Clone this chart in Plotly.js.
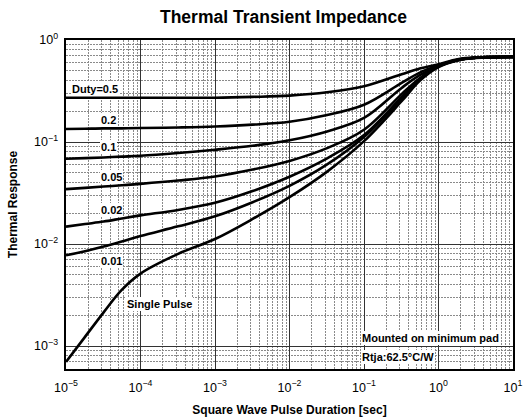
<!DOCTYPE html>
<html>
<head>
<meta charset="utf-8">
<script src="https://cdn.plot.ly/plotly-3.0.1.min.js"></script>
<style>html,body{margin:0;padding:0;background:#fff;}#chart{width:532px;height:420px;}</style>
</head>
<body>
<div id="chart"></div>
<script>
// Square wave pulse duration [sec]
const duration = [1e-5, 1.8e-5, 3.2e-5, 5.6e-5, 1e-4, 3.2e-4, 1e-3, 3.2e-3, 1e-2, 3.2e-2, 0.1, 0.32, 0.56, 1, 1.8, 3.2, 10];

// Thermal response per duty cycle
const duty05 = [0.272, 0.272, 0.272, 0.272, 0.272, 0.272, 0.272, 0.277, 0.285, 0.307, 0.352, 0.462, 0.525, 0.579, 0.646, 0.675, 0.684];
const duty02 = [0.134, 0.135, 0.136, 0.136, 0.137, 0.139, 0.142, 0.148, 0.158, 0.184, 0.232, 0.380, 0.479, 0.565, 0.641, 0.673, 0.684];
const duty01 = [0.0685, 0.0695, 0.0706, 0.0719, 0.0733, 0.0780, 0.0839, 0.0918, 0.104, 0.127, 0.172, 0.339, 0.452, 0.558, 0.638, 0.671, 0.684];
const duty005 = [0.0345, 0.0355, 0.0366, 0.0377, 0.0389, 0.0419, 0.0459, 0.0537, 0.0653, 0.0871, 0.132, 0.295, 0.422, 0.555, 0.637, 0.670, 0.684];
const duty002 = [0.0148, 0.0157, 0.0166, 0.0178, 0.0191, 0.0216, 0.0254, 0.0331, 0.0457, 0.0692, 0.117, 0.275, 0.412, 0.552, 0.635, 0.670, 0.684];
const duty001 = [0.00776, 0.00851, 0.00944, 0.0106, 0.0120, 0.0149, 0.0187, 0.0257, 0.0372, 0.0603, 0.112, 0.263, 0.407, 0.550, 0.634, 0.670, 0.684];
const singlePulse = [0.00070, 0.00123, 0.00214, 0.00355, 0.00513, 0.00800, 0.0112, 0.0176, 0.0288, 0.0513, 0.102, 0.251, 0.398, 0.543, 0.631, 0.668, 0.684];

const seriesNames = ['Duty=0.5', '0.2', '0.1', '0.05', '0.02', '0.01', 'Single Pulse'];
const seriesValues = [duty05, duty02, duty01, duty005, duty002, duty001, singlePulse];
const decadeTickText = {'1': '10<sup>0</sup>', '10': '10<sup>1</sup>'};

const FONT = '"Liberation Sans", Arial, Helvetica, sans-serif';

const traces = seriesValues.map((ys, i) => ({
  type: 'scatter',
  mode: 'lines',
  x: duration,
  y: ys,
  name: seriesNames[i],
  line: {color: '#000', width: 2.6, shape: 'spline', smoothing: 1},
  hoverinfo: 'skip'
}));

function lbl(text, x, y) {
  return {
    xref: 'paper', yref: 'paper', x: x, y: y,
    xanchor: 'left', yanchor: 'middle',
    text: '<b>' + text + '</b>', showarrow: false,
    bgcolor: '#fff', borderpad: 1, borderwidth: 0,
    font: {family: FONT, size: 11, color: '#000'}
  };
}

const annotations = [
  lbl(seriesNames[0], 0.011, 0.850),
  lbl(seriesNames[1], 0.076, 0.757),
  lbl(seriesNames[2], 0.076, 0.674),
  lbl(seriesNames[3], 0.076, 0.585),
  lbl(seriesNames[4], 0.076, 0.483),
  lbl(seriesNames[5], 0.076, 0.329),
  lbl(seriesNames[6], 0.134, 0.198),
  lbl('Mounted on minimum pad', 0.660, 0.095),
  lbl('Rtja:62.5°C/W', 0.660, 0.037)
];

const minorGrid = {dtick: 'D1', showgrid: true, gridcolor: '#8a8a8a', griddash: '2px,1px', gridwidth: 1, ticks: ''};

function axisBase() {
  return {
    type: 'log', dtick: 1, tick0: 0,
    exponentformat: 'power',
    labelalias: decadeTickText,
    showgrid: true, gridcolor: '#333', gridwidth: 1,
    minor: minorGrid,
    showline: true, linecolor: '#000', linewidth: 2, mirror: true,
    ticks: '',
    tickfont: {family: FONT, size: 10, color: '#000'},
    zeroline: false
  };
}

const xaxis = Object.assign(axisBase(), {
  range: [-5, 1], ticklabelstandoff: 6,
  title: {text: '<b>Square Wave Pulse Duration [sec]</b>', font: {family: FONT, size: 12, color: '#000'}, standoff: 12}
});
const yaxis = Object.assign(axisBase(), {
  range: [-3.225, 0], ticklabelstandoff: 4,
  title: {text: '<b>Thermal Response</b>', font: {family: FONT, size: 12, color: '#000'}, standoff: 14}
});

const layout = {
  width: 532, height: 420,
  margin: {l: 66, r: 19, t: 40, b: 51},
  paper_bgcolor: '#fff', plot_bgcolor: '#fff',
  showlegend: false,
  font: {family: FONT, color: '#000', size: 10},
  title: {
    text: '<b>Thermal Transient Impedance</b>',
    font: {family: FONT, size: 17.5, color: '#000'},
    x: 0.4866, xref: 'paper', xanchor: 'center',
    y: 0.9595, yref: 'container', yanchor: 'middle'
  },
  xaxis: xaxis,
  yaxis: yaxis,
  shapes: [{
    type: 'rect', xref: 'paper', yref: 'paper',
    x0: 0.642, x1: 1, y0: 0, y1: 0.131,
    fillcolor: '#fff', line: {width: 0}, layer: 'between'
  }],
  annotations: annotations
};

Plotly.newPlot('chart', traces, layout, {staticPlot: true, displayModeBar: false});
</script>
</body>
</html>
